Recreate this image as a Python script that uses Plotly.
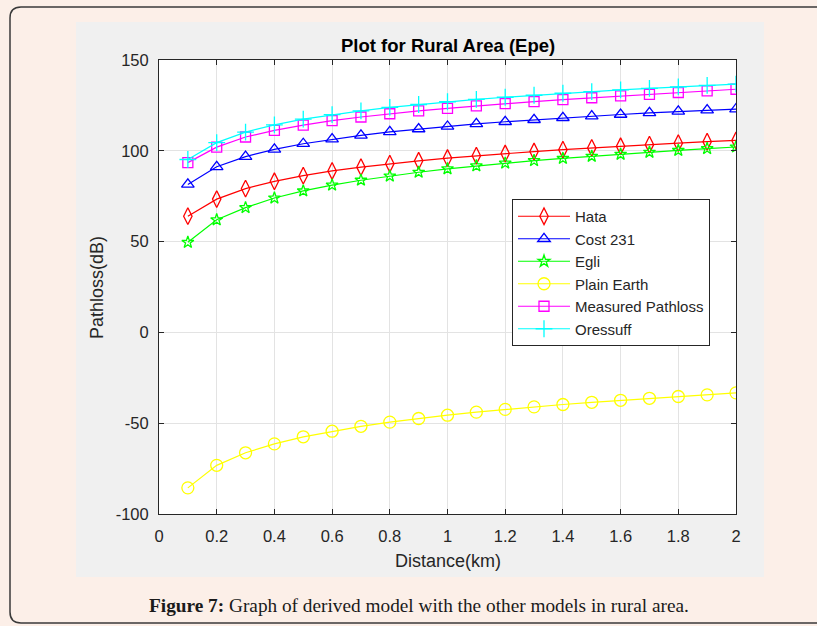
import plotly.graph_objects as go

# ---------------- data ----------------
distance_km = [0.1, 0.2, 0.3, 0.4, 0.5, 0.6, 0.7, 0.8, 0.9, 1.0,
               1.1, 1.2, 1.3, 1.4, 1.5, 1.6, 1.7, 1.8, 1.9, 2.0]

hata = [64.0, 73.4, 79.2, 83.2, 86.3, 88.9, 91.0, 92.9, 94.5, 96.0,
        97.3, 98.5, 99.6, 100.6, 101.6, 102.5, 103.4, 104.2, 105.0, 105.7]
cost231 = [81.5, 91.2, 96.8, 100.8, 103.9, 106.4, 108.5, 110.4, 112.0, 113.4,
           114.8, 116.0, 117.1, 118.2, 119.1, 120.0, 120.9, 121.7, 122.4, 123.0]
egli = [49.6, 62.0, 68.7, 74.0, 77.9, 81.1, 83.8, 86.1, 88.2, 90.1,
        91.7, 93.2, 94.6, 95.8, 97.0, 98.1, 99.2, 100.2, 101.2, 102.1]
plain_earth = [-85.6, -73.2, -66.3, -61.4, -57.5, -54.4, -51.7, -49.4, -47.4, -45.6,
               -43.9, -42.4, -41.0, -39.7, -38.5, -37.4, -36.3, -35.3, -34.4, -33.3]
measured = [93.5, 102.0, 107.6, 111.2, 114.1, 116.6, 118.6, 120.4, 122.0, 123.4,
            124.7, 126.0, 127.1, 128.2, 129.2, 130.2, 131.1, 132.1, 133.0, 133.9]
oressuff = [95.2, 104.5, 110.3, 114.3, 117.4, 119.9, 122.0, 123.9, 125.5, 127.0,
            128.3, 129.5, 130.6, 131.7, 132.6, 133.5, 134.4, 135.2, 136.0, 136.7]

series_names = ["Hata", "Cost 231", "Egli", "Plain Earth", "Measured Pathloss", "Oressuff"]
series_values = [hata, cost231, egli, plain_earth, measured, oressuff]
series_colors = ["#ff0000", "#0000ff", "#00ff00", "#ffff00", "#ff00ff", "#00ffff"]
series_symbols = ["diamond-tall-open", "triangle-up-open", "star-open",
                  "circle-open", "square-open", "cross-thin-open"]
series_sizes = [12, 11, 9, 12, 10, 12]

x_tickvals = [0, 0.2, 0.4, 0.6, 0.8, 1, 1.2, 1.4, 1.6, 1.8, 2]
x_ticktext = ["0", "0.2", "0.4", "0.6", "0.8", "1", "1.2", "1.4", "1.6", "1.8", "2"]
y_tickvals = [-100, -50, 0, 50, 100, 150]
y_ticktext = ["-100", "-50", "0", "50", "100", "150"]

title_text = "Plot for Rural Area (Epe)"
x_title = "Distance(km)"
y_title = "Pathloss(dB)"
caption = "<b>Figure 7:</b> Graph of derived model with the other models in rural area."

# ---------------- layout geometry ----------------
W, H = 817, 626
L, R, T, B = 159, 736, 60, 514


def px(x):
    return (x - L) / (R - L)


def py(y):
    return (B - y) / (B - T)


fig = go.Figure()
for i, (name, vals, col, sym, sz) in enumerate(
        zip(series_names, series_values, series_colors, series_symbols, series_sizes)):
    fig.add_trace(go.Scatter(
        x=distance_km, y=vals, name=name, mode="lines+markers",
        line=dict(color=col, width=1.2),
        marker=dict(symbol=sym, size=sz, color=col, line=dict(color=col, width=1.3)),
    ))

font_sans = "Liberation Sans, Arial, sans-serif"
tick_color = "#262626"

fig.update_layout(
    width=W, height=H,
    margin=dict(l=L, r=W - R, t=T, b=H - B, autoexpand=False),
    paper_bgcolor="#fcefe8",
    plot_bgcolor="white",
    showlegend=True,
    legend=dict(
        x=px(512), y=py(199), xanchor="left", yanchor="top",
        bgcolor="white", bordercolor="#262626", borderwidth=1,
        font=dict(family=font_sans, size=15, color="#262626"),
        itemwidth=52,
    ),
    xaxis=dict(
        range=[0, 2], tickvals=x_tickvals, ticktext=x_ticktext,
        showgrid=True, gridcolor="#e3e3e3", gridwidth=1,
        showline=True, linecolor=tick_color, linewidth=1, mirror="ticks",
        ticks="inside", ticklen=5, tickcolor=tick_color,
        tickfont=dict(family=font_sans, size=16.5, color=tick_color),
        ticklabelstandoff=7, zeroline=False,
    ),
    yaxis=dict(
        range=[-100, 150], tickvals=y_tickvals, ticktext=y_ticktext,
        showgrid=True, gridcolor="#e3e3e3", gridwidth=1,
        showline=True, linecolor=tick_color, linewidth=1, mirror="ticks",
        ticks="inside", ticklen=5, tickcolor=tick_color,
        tickfont=dict(family=font_sans, size=16.5, color=tick_color),
        ticklabelstandoff=6, zeroline=False,
    ),
)

# outer rounded border
r = 11
x0, y0, x1, y1 = 10, 7, 840, 623
path = (f"M {px(x0 + r)},{py(y0)} L {px(x1)},{py(y0)} "
        f"M {px(x1)},{py(y1)} L {px(x0 + r)},{py(y1)} "
        f"Q {px(x0)},{py(y1)} {px(x0)},{py(y1 - r)} "
        f"L {px(x0)},{py(y0 + r)} Q {px(x0)},{py(y0)} {px(x0 + r)},{py(y0)}")
fig.add_shape(type="path", path=path, xref="paper", yref="paper",
              line=dict(color="#3a3a3a", width=1.5), layer="below")
# gray figure panel
fig.add_shape(type="rect", xref="paper", yref="paper",
              x0=px(76), x1=px(764), y0=py(577), y1=py(22),
              fillcolor="#f0f0f0", line=dict(width=0), layer="below")
# white axes area
fig.add_shape(type="rect", xref="paper", yref="paper",
              x0=0, x1=1, y0=0, y1=1,
              fillcolor="white", line=dict(width=0), layer="below")

common = dict(xref="paper", yref="paper", showarrow=False,
              xanchor="center", yanchor="middle")
fig.add_annotation(text=f"<b>{title_text}</b>", x=px(447.5), y=py(45),
                   font=dict(family=font_sans, size=18.5, color="#000000"), **common)
fig.add_annotation(text=x_title, x=px(447.5), y=py(561),
                   font=dict(family=font_sans, size=18, color=tick_color), **common)
fig.add_annotation(text=y_title, x=px(97), y=py(288), textangle=-90,
                   font=dict(family=font_sans, size=18, color=tick_color), **common)
fig.add_annotation(text=caption, x=px(419), y=py(605),
                   font=dict(family="Liberation Serif, Times New Roman, serif",
                             size=19.3, color="#1a1a1a"), **common)

fig.write_html("out.html")
